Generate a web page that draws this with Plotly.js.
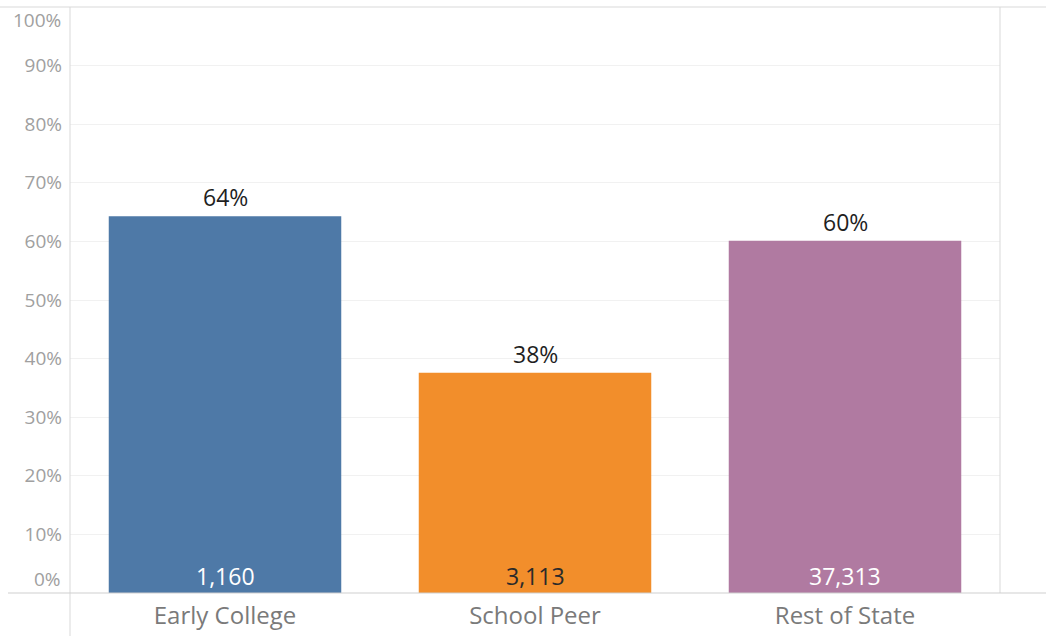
<!DOCTYPE html>
<html>
<head>
<meta charset="utf-8">
<script src="https://cdn.plot.ly/plotly-3.0.1.min.js"></script>
<style>html,body{margin:0;padding:0;background:#fff;}#chart{width:1046px;height:636px;}</style>
</head>
<body>
<div id="chart"></div>
<script>
const categories = ['Early College', 'School Peer', 'Rest of State'];
const rates = [0.643, 0.376, 0.601];
const counts = [1160, 3113, 37313];
const barColors = ['#4e79a7', '#f28e2b', '#b07aa1'];
const countColors = ['#ffffff', '#2a2a2a', '#ffffff'];
const yTickVals = [0, 0.1, 0.2, 0.3, 0.4, 0.5, 0.6, 0.7, 0.8, 0.9, 1.0];

const FONT = '"Open Sans", Lato, sans-serif';
const L = 70, R = 46, T = 7, B = 43, W = 1046, H = 636;
const pw = W - L - R, ph = H - T - B;

const trace = {
  type: 'bar',
  x: categories,
  y: rates,
  marker: {color: barColors, line: {width: 0}},
  hoverinfo: 'none',
  textposition: 'none'
};

function pct(v){ return Math.round(v*100) + '%'; }

const annotations = [];
categories.forEach((c, i) => {
  annotations.push({
    x: c, y: rates[i], xref: 'x', yref: 'y',
    text: pct(rates[i]), showarrow: false,
    yanchor: 'bottom', yshift: 1,
    font: {family: FONT, size: 23, color: '#1f1f1f'}
  });
  annotations.push({
    x: c, y: 0, xref: 'x', yref: 'y',
    text: counts[i].toLocaleString('en-US'), showarrow: false,
    yanchor: 'bottom', yshift: -1,
    font: {family: FONT, size: 23, color: countColors[i]}
  });
});

// edge tick labels nudged inward (Tableau style)
annotations.push({xref:'paper', yref:'y', x:0, y:0, xanchor:'right', yanchor:'middle', xshift:-7, yshift:14,
  text:'0%', showarrow:false, font:{family:FONT, size:19, color:'#a0a0a0'}});
annotations.push({xref:'paper', yref:'y', x:0, y:1, xanchor:'right', yanchor:'middle', xshift:-7, yshift:-13,
  text:'100%', showarrow:false, font:{family:FONT, size:19, color:'#a0a0a0'}});

const innerVals = yTickVals.slice(1, -1);

const layout = {
  width: W, height: H,
  margin: {l: L, r: R, t: T, b: B, pad: 0},
  paper_bgcolor: '#ffffff', plot_bgcolor: '#ffffff',
  showlegend: false,
  bargap: 0.25,
  font: {family: FONT},
  xaxis: {
    type: 'category',
    showgrid: false, zeroline: false, showline: false,
    ticks: '', ticklabelstandoff: 6,
    tickfont: {family: FONT, size: 24, color: '#7a7a7a'},
    fixedrange: true
  },
  yaxis: {
    range: [0, 1],
    tickvals: innerVals,
    ticktext: innerVals.map(pct),
    showgrid: true, gridcolor: '#f1f1f1', gridwidth: 1,
    zeroline: false, showline: false,
    ticks: '', ticklabelstandoff: 7,
    tickfont: {family: FONT, size: 19, color: '#a0a0a0'},
    fixedrange: true
  },
  shapes: [
    {type:'line', xref:'paper', yref:'paper', x0:-L/pw, x1:1+R/pw, y0:1, y1:1, line:{color:'#d9d9d9', width:1}},
    {type:'line', xref:'paper', yref:'paper', x0:0, x1:0, y0:-B/ph, y1:1, line:{color:'#d9d9d9', width:1}},
    {type:'line', xref:'paper', yref:'paper', x0:1, x1:1, y0:0, y1:1, line:{color:'#d9d9d9', width:1}},
    {type:'line', xref:'paper', yref:'paper', x0:-(L-8)/pw, x1:1+R/pw, y0:0, y1:0, line:{color:'#cfcfcf', width:1}}
  ],
  annotations: annotations
};

Plotly.newPlot('chart', [trace], layout, {displayModeBar: false, staticPlot: true});
</script>
</body>
</html>
